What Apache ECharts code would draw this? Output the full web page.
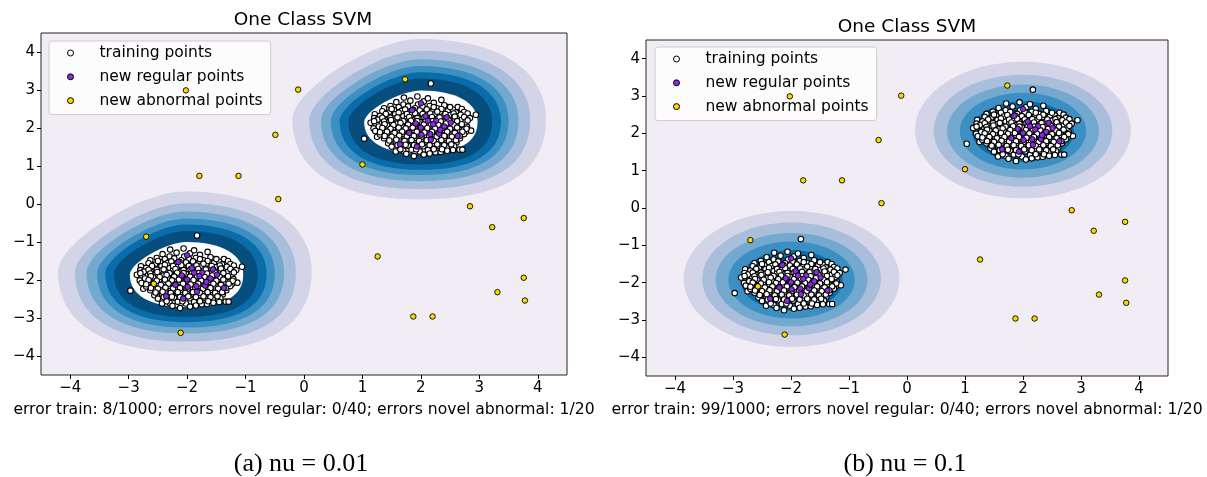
<!DOCTYPE html>
<html><head><meta charset="utf-8">
<script src="https://cdn.jsdelivr.net/npm/echarts@6/dist/echarts.min.js"></script>
<style>html,body{margin:0;padding:0;background:#fff}#main{width:1207px;height:477px}</style>
</head><body><div id="main"></div>
<script>
// ---------- data ----------
// Both clusters share the same offsets (X_train = r_[X + 2, X - 2])
const clusterCenters = [[2, 2], [-2, -2]];
const trainOffsets = [
 [0.17,1.17],[0.94,0.35],[-0.97,-0.28],[0.66,-0.57],[0.71,-0.57],[-0.12,-0.74],[-0.81,-0.01],[-0.79,0.36],
 [-0.80,0.26],[-0.63,0.52],[0.46,0.55],[-0.06,0.83],[-0.29,0.80],[0.25,-0.64],[-0.43,-0.62],[-0.75,-0.23],
 [0.79,0.03],[0.77,-0.10],[0.34,-0.63],[0.63,0.55],
 [-0.42,0.68],[-0.18,0.72],[0.05,0.70],[0.22,0.66],[0.35,0.74],[-0.05,0.62],[0.12,0.78],[-0.30,0.62],
 [-0.52,0.58],[-0.38,0.55],[-0.22,0.57],[-0.10,0.52],[0.03,0.56],[0.15,0.58],[0.28,0.52],[0.40,0.60],[0.55,0.48],[-0.46,0.47],[0.70,0.50],
 [-0.66,0.44],[-0.55,0.40],[-0.33,0.45],[-0.18,0.42],[-0.02,0.46],[0.08,0.41],[0.21,0.45],[0.33,0.40],[0.46,0.44],[0.60,0.41],[0.74,0.42],
 [-0.70,0.32],[-0.56,0.30],[-0.44,0.36],[-0.30,0.31],[-0.16,0.35],[-0.05,0.30],[0.10,0.33],[0.24,0.36],[0.37,0.30],[0.50,0.34],[0.64,0.31],[0.80,0.38],
 [-0.74,0.22],[-0.60,0.20],[-0.48,0.25],[-0.36,0.21],[-0.24,0.26],[-0.11,0.22],[0.02,0.24],[0.15,0.21],[0.29,0.25],[0.42,0.20],[0.56,0.24],[0.70,0.22],[0.84,0.26],
 [-0.86,0.14],[-0.67,0.12],[-0.54,0.16],[-0.41,0.11],[-0.28,0.15],[-0.15,0.12],[-0.02,0.16],[0.11,0.12],[0.24,0.15],[0.37,0.11],[0.50,0.16],[0.63,0.12],[0.76,0.15],
 [-0.72,0.04],[-0.58,0.07],[-0.46,0.02],[-0.33,0.06],[-0.20,0.03],[-0.08,0.07],[0.05,0.02],[0.18,0.06],[0.31,0.03],[0.44,0.07],[0.57,0.02],[0.68,0.07],
 [-0.78,-0.08],[-0.64,-0.05],[-0.52,-0.09],[-0.39,-0.04],[-0.26,-0.08],[-0.13,-0.05],[0.00,-0.09],[0.13,-0.04],[0.26,-0.08],[0.39,-0.05],[0.52,-0.09],[0.65,-0.04],[0.86,-0.07],
 [-0.70,-0.17],[-0.57,-0.14],[-0.44,-0.19],[-0.31,-0.15],[-0.18,-0.18],[-0.05,-0.14],[0.08,-0.19],[0.21,-0.15],[0.34,-0.18],[0.47,-0.14],[0.60,-0.19],[0.74,-0.16],
 [-0.63,-0.27],[-0.50,-0.30],[-0.37,-0.25],[-0.24,-0.29],[-0.11,-0.26],[0.02,-0.30],[0.15,-0.25],[0.28,-0.29],[0.41,-0.26],[0.54,-0.30],[0.67,-0.27],
 [-0.56,-0.40],[-0.43,-0.36],[-0.30,-0.41],[-0.17,-0.37],[-0.04,-0.40],[0.09,-0.36],[0.22,-0.41],[0.35,-0.37],[0.48,-0.40],[0.61,-0.38],
 [-0.50,-0.49],[-0.36,-0.52],[-0.22,-0.47],[-0.09,-0.51],[0.04,-0.48],[0.17,-0.52],[0.30,-0.47],[0.44,-0.51],[0.57,-0.48],
 [-0.30,-0.60],[-0.16,-0.57],[-0.02,-0.62],[0.12,-0.58],[0.45,-0.60],[0.55,-0.58],
 [-0.25,-0.68],[0.05,-0.70],[0.15,-0.67],
 [-0.50,0.50],[-0.27,0.49],[-0.13,0.47],[0.10,0.49],[0.22,0.55],[0.35,0.50],[0.50,0.55],
 [-0.60,0.37],[-0.38,0.40],[-0.24,0.37],[-0.10,0.39],[0.03,0.37],[0.16,0.38],[0.28,0.43],[0.42,0.37],[0.56,0.38],[0.68,0.35],
 [-0.66,0.27],[-0.52,0.27],[-0.40,0.28],[-0.20,0.29],[-0.06,0.26],[0.06,0.28],[0.19,0.29],[0.32,0.28],[0.45,0.27],[0.58,0.30],[0.74,0.29],
 [-0.80,0.18],[-0.63,0.17],[-0.51,0.21],[-0.30,0.18],[-0.17,0.19],[-0.06,0.18],[0.08,0.17],[0.20,0.18],[0.34,0.17],[0.48,0.20],[0.62,0.18],[0.80,0.20],
 [-0.62,0.10],[-0.47,0.08],[-0.35,0.13],[-0.22,0.09],[-0.09,0.10],[0.05,0.09],[0.17,0.10],[0.30,0.08],[0.43,0.12],[0.56,0.08],[0.70,0.10],
 [-0.66,0.00],[-0.52,-0.02],[-0.38,0.01],[-0.26,-0.01],[-0.14,0.01],[-0.01,-0.02],[0.11,0.00],[0.24,-0.01],[0.37,0.00],[0.50,-0.02],[0.62,0.01],[0.78,-0.02],
 [-0.70,-0.11],[-0.58,-0.10],[-0.45,-0.13],[-0.32,-0.10],[-0.20,-0.12],[-0.07,-0.10],[0.06,-0.12],[0.19,-0.10],[0.32,-0.12],[0.45,-0.10],[0.58,-0.13],[0.71,-0.10],
 [-0.62,-0.21],[-0.50,-0.23],[-0.37,-0.20],[-0.24,-0.22],[-0.12,-0.21],[0.01,-0.23],[0.14,-0.21],[0.27,-0.23],[0.40,-0.21],[0.53,-0.23],[0.66,-0.21],
 [-0.54,-0.33],[-0.42,-0.31],[-0.28,-0.34],[-0.16,-0.32],[-0.03,-0.34],[0.10,-0.32],[0.22,-0.34],[0.35,-0.32],[0.48,-0.34],[0.60,-0.32],
 [-0.40,-0.45],[-0.26,-0.44],[-0.12,-0.45],[0.02,-0.43],[0.15,-0.45],[0.28,-0.43],[0.40,-0.45],[0.52,-0.43],
 [-0.35,-0.56],[-0.08,-0.56],[0.22,-0.56],[0.36,-0.56]
];
const regularOffsets = [
 [0.00,0.65],[-0.15,0.47],[0.44,0.28],[0.08,0.31],[0.12,0.19],[0.26,0.19],[0.51,0.14],[-0.09,0.12],[0.21,0.10],[0.40,0.04],
 [0.00,0.01],[-0.20,-0.13],[0.01,-0.18],[0.16,-0.16],[0.31,-0.15],[0.17,-0.31],[0.63,-0.21],[-0.36,-0.43],[-0.07,-0.49],[0.33,-0.05]
];
const abnormalPoints = [
 [1.73,3.28],[-0.10,3.01],[-0.49,1.82],[1.00,1.04],[-1.79,0.74],[-1.12,0.74],[-0.44,0.13],[2.84,-0.06],[3.76,-0.37],[3.22,-0.61],
 [-2.70,-0.86],[1.26,-1.38],[3.76,-1.94],[3.31,-2.32],[3.78,-2.54],[1.87,-2.96],[2.20,-2.96],[-2.11,-3.39],[-2.57,-2.10],[-2.02,2.99]
];
// contour band outlines: [cx, cy, rWest, rEast, rNorth, rSouth, band]
const contoursNu001 = [
 [1.97,2.23,2.17,2.17,2.11,2.11,0],[1.98,2.21,1.89,1.89,1.82,1.82,1],[1.98,2.20,1.69,1.69,1.61,1.60,2],[1.98,2.19,1.52,1.52,1.44,1.43,3],
 [1.99,2.18,1.38,1.38,1.29,1.28,4],[1.99,2.17,1.23,1.23,1.13,1.13,5],[2.00,2.16,0.97,0.97,0.83,0.83,6],
 [-2.04,-1.78,2.17,2.17,2.11,2.11,0],[-2.03,-1.80,1.89,1.89,1.82,1.82,1],[-2.03,-1.81,1.69,1.69,1.61,1.60,2],[-2.02,-1.82,1.52,1.52,1.44,1.43,3],
 [-2.02,-1.83,1.38,1.38,1.29,1.28,4],[-2.02,-1.84,1.23,1.23,1.13,1.13,5],[-2.01,-1.86,0.97,0.97,0.86,0.85,6]
];
const contoursNu01 = [
 [2.00,2.09,1.86,1.86,1.83,1.83,0],[2.00,2.07,1.54,1.54,1.50,1.50,1],[2.00,2.06,1.31,1.31,1.25,1.25,2],[2.00,2.06,1.09,1.09,1.03,1.03,3],
 [2.00,2.05,0.88,0.88,0.81,0.81,4],[2.00,2.05,0.70,0.70,0.62,0.62,5],[2.00,2.05,0.57,0.57,0.48,0.48,6],
 [-1.99,-1.90,1.86,1.86,1.82,1.82,0],[-1.99,-1.90,1.54,1.54,1.51,1.51,1],[-1.99,-1.92,1.31,1.31,1.25,1.25,2],[-1.99,-1.93,1.09,1.09,1.03,1.03,3],
 [-1.99,-1.94,0.88,0.88,0.81,0.81,4],[-1.99,-1.95,0.70,0.70,0.62,0.62,5],[-1.98,-1.95,0.58,0.58,0.48,0.48,6]
];
const tickValues = [-4,-3,-2,-1,0,1,2,3,4];
const panelTitles = ['One Class SVM', 'One Class SVM'];
const panelCaptions = ['error train: 8/1000; errors novel regular: 0/40; errors novel abnormal: 1/20',
                       'error train: 99/1000; errors novel regular: 0/40; errors novel abnormal: 1/20'];
const subCaptions = ['(a) nu = 0.01', '(b) nu = 0.1'];
const seriesNames = ['training points', 'new regular points', 'new abnormal points'];

// ---------- styles ----------
const bandColors = ['#d4d4e8','#a8bedb','#74a9cf','#3b8fc2','#0a6ca9','#054e7e','#ffffff'];
const bgColor = '#f2edf5';
const FONT = 'DejaVu Sans';
const shapeK = [[0.62,0.36,0.64,0.66],[0.5523,0.5523,0.5523,0.5523]]; // quadrant bezier tension NE,NW,SW,SE
const grids = [
 {left:41, top:33, width:526, height:342},
 {left:646, top:40, width:522, height:336}
];

const trainData = clusterCenters.flatMap(c => trainOffsets.map(o => [c[0]+o[0], c[1]+o[1]]));
const regularData = clusterCenters.flatMap(c => regularOffsets.map(o => [c[0]+o[0], c[1]+o[1]]));

function contourRender(k) {
  return function (params, api) {
    const cx = api.value(0), cy = api.value(1);
    const rW = api.value(2), rE = api.value(3), rN = api.value(4), rS = api.value(5), lv = api.value(6);
    const C = api.coord([cx, cy]), E = api.coord([cx + rE, cy]), N = api.coord([cx, cy + rN]);
    const W = api.coord([cx - rW, cy]), S = api.coord([cx, cy - rS]);
    const pE = E[0]-C[0], pW = C[0]-W[0], pN = C[1]-N[1], pS = S[1]-C[1];
    const f = v => v.toFixed(2);
    const d = 'M' + f(E[0]) + ',' + f(E[1]) +
      'C' + f(E[0]) + ',' + f(E[1]-k[0]*pN) + ' ' + f(N[0]+k[0]*pE) + ',' + f(N[1]) + ' ' + f(N[0]) + ',' + f(N[1]) +
      'C' + f(N[0]-k[1]*pW) + ',' + f(N[1]) + ' ' + f(W[0]) + ',' + f(W[1]-k[1]*pN) + ' ' + f(W[0]) + ',' + f(W[1]) +
      'C' + f(W[0]) + ',' + f(W[1]+k[2]*pS) + ' ' + f(S[0]-k[2]*pW) + ',' + f(S[1]) + ' ' + f(S[0]) + ',' + f(S[1]) +
      'C' + f(S[0]+k[3]*pE) + ',' + f(S[1]) + ' ' + f(E[0]) + ',' + f(E[1]+k[3]*pS) + ' ' + f(E[0]) + ',' + f(E[1]) + 'Z';
    return { type: 'path', shape: { pathData: d }, style: { fill: bandColors[lv] } };
  };
}

const fmt = v => (v < 0 ? '\u2212' : '') + Math.abs(v);
function axis(i, isX) {
  return {
    type: 'value', gridIndex: i, min: -4.5, max: 4.5,
    splitLine: { show: false }, axisLine: { show: false, onZero: false },
    axisTick: { show: true, length: 4, customValues: tickValues, lineStyle: { color: '#000' } },
    axisLabel: { customValues: tickValues, formatter: fmt, fontFamily: FONT, fontSize: 15, color: '#000', margin: 6 },
    ...(isX ? { name: panelCaptions[i], nameLocation: 'middle', nameGap: 27 - i,
      nameTextStyle: { fontFamily: FONT, fontSize: 15.6, color: '#000' } } : {})
  };
}

const series = [];
[contoursNu001, contoursNu01].forEach((cont, i) => {
  series.push({ type: 'custom', xAxisIndex: i, yAxisIndex: i, data: cont, renderItem: contourRender(shapeK[i]),
    clip: true, silent: true, z: 1 });
  series.push({ type: 'scatter', name: seriesNames[0], xAxisIndex: i, yAxisIndex: i, data: trainData, symbolSize: 5.5, z: 3,
    itemStyle: { color: '#ffffff', borderColor: '#000', borderWidth: 1.1, opacity: 1 } });
  series.push({ type: 'scatter', name: seriesNames[1], xAxisIndex: i, yAxisIndex: i, data: regularData, symbolSize: 5.5, z: 4,
    itemStyle: { color: '#8a2be2', borderColor: '#000', borderWidth: 0.9, opacity: 1 } });
  series.push({ type: 'scatter', name: seriesNames[2], xAxisIndex: i, yAxisIndex: i, data: abnormalPoints, symbolSize: 5.5, z: 4,
    itemStyle: { color: '#ffd700', borderColor: '#000', borderWidth: 0.9, opacity: 1 } });
});

const legendStyles = [
  { color: '#ffffff', borderColor: '#000', borderWidth: 1 },
  { color: '#8a2be2', borderColor: '#000', borderWidth: 1 },
  { color: '#ffd700', borderColor: '#000', borderWidth: 1 }
];
function legend(left, top) {
  return {
    orient: 'vertical', left: left, top: top, selectedMode: false,
    backgroundColor: 'rgba(255,255,255,0.8)', borderColor: '#cccccc', borderWidth: 1, borderRadius: 3,
    padding: [4, 8, 6, 18], itemWidth: 6, itemHeight: 6, itemGap: 7.8,
    textStyle: { fontFamily: FONT, fontSize: 15.5, color: '#000', lineHeight: 16, padding: [0, 0, 0, 21] },
    data: seriesNames.map((n, j) => ({ name: n, icon: 'circle', itemStyle: legendStyles[j] }))
  };
}

const textEl = (x, y, text, font, extra) => ({
  type: 'text', x: x, y: y, silent: true,
  style: Object.assign({ text: text, font: font, fill: '#000', align: 'center', verticalAlign: 'middle',
    textAlign: 'center', textVerticalAlign: 'middle' }, extra || {})
});

const option = {
  animation: false,
  backgroundColor: '#ffffff',
  grid: grids.map(g => Object.assign({ show: true, backgroundColor: bgColor, borderColor: '#262626', borderWidth: 1,
    containLabel: false, outerBoundsMode: 'none' }, g)),
  xAxis: [axis(0, true), axis(1, true)],
  yAxis: [axis(0, false), axis(1, false)],
  legend: [legend(49, 41), legend(655, 47)],
  series: series,
  graphic: [
    textEl(303, 20, panelTitles[0], '18.5px "' + FONT + '"'),
    textEl(907, 27, panelTitles[1], '18.5px "' + FONT + '"'),
    textEl(301, 464, subCaptions[0], '26px "Liberation Serif"'),
    textEl(905, 464, subCaptions[1], '26px "Liberation Serif"')
  ]
};
const chart = echarts.init(document.getElementById('main'), null, { renderer: 'canvas' });
chart.setOption(option);
</script></body></html>
